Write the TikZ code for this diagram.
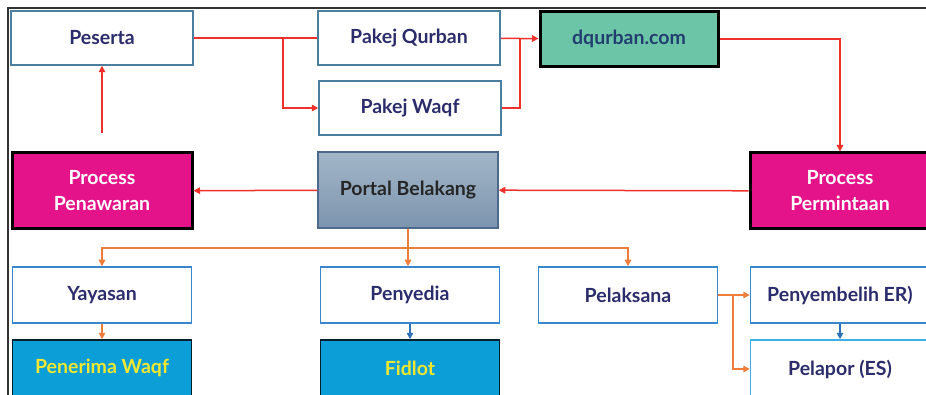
\documentclass[tikz,border=0pt]{standalone}
\usepackage{fontspec}
\setmainfont{Lato}
\usepackage{tikz}
\usetikzlibrary{arrows.meta}

\definecolor{navytext}{HTML}{2B2C6B}
\definecolor{steelline}{HTML}{4A7FA0}
\definecolor{blueline}{HTML}{3A86CF}
\definecolor{cyanline}{HTML}{3CB0E2}
\definecolor{redline}{HTML}{F0302A}
\definecolor{orangeline}{HTML}{EE7D3A}
\definecolor{arrowblue}{HTML}{2E70B8}
\definecolor{webgreen}{HTML}{6CC5A7}
\definecolor{procpink}{HTML}{E5138A}
\definecolor{fillcyan}{HTML}{0C9ED6}
\definecolor{yellowtext}{HTML}{F0E830}
\definecolor{portaltop}{HTML}{A3B6C8}
\definecolor{portalbottom}{HTML}{7C95AE}
\definecolor{portalline}{HTML}{4D6A8C}

\begin{document}
\begin{tikzpicture}[x=1pt, y=-1pt, >={Triangle[length=6.5pt,width=6.5pt]},
    every node/.style={font=\fontsize{19.5}{26}\selectfont\bfseries, align=center, inner sep=0pt},
    topbox/.style={draw=steelline, line width=1.5pt, fill=white, text=navytext, minimum width=182, minimum height=54},
    lowbox/.style={draw=blueline, line width=1.5pt, fill=white, text=navytext, minimum width=179, minimum height=56},
    procbox/.style={draw=black, line width=3pt, fill=procpink, text=white, minimum width=180, minimum height=76},
    fillbox/.style={draw=black!80!fillcyan, line width=1.5pt, fill=fillcyan, text=yellowtext, minimum width=179, minimum height=56},
    redarrow/.style={draw=redline, line width=1.5pt},
    orangearrow/.style={draw=orangeline, line width=1.5pt},
    bluearrow/.style={draw=arrowblue, line width=1.5pt}]
    \useasboundingbox (0,0) rectangle (926,395);
    \clip (0,0) rectangle (926,395);
    \fill[white] (0,0) rectangle (926,395);

    % Frame of the screenshot
    \draw[black!80, line width=1.5pt] (8,400) -- (8,8) -- (930,8);

    % Top row
    \node[topbox] (peserta) at (102,38) {Peserta};
    \node[topbox] (qurban) at (409,38) {Pakej Qurban};
    \node[topbox] (waqf) at (410,108) {Pakej Waqf};
    \node[draw=black, line width=3pt, fill=webgreen, text=navytext!80!teal,
          minimum width=178, minimum height=55] (dqurban) at (629,39) {dqurban.com};

    % Middle row
    \node[procbox] (penawaran) at (102,191) {Process\\Penawaran};
    \node[draw=portalline, line width=1.5pt, top color=portaltop, bottom color=portalbottom,
          text=black!85, minimum width=180, minimum height=76] (portal) at (408,190) {Portal Belakang};
    \node[procbox] (permintaan) at (840,191) {Process\\Permintaan};

    % Bottom rows
    \node[lowbox] (yayasan) at (102,295) {Yayasan};
    \node[lowbox] (penyedia) at (410,295) {Penyedia};
    \node[lowbox] (pelaksana) at (628,295) {Pelaksana};
    \node[lowbox] (penyembelih) at (840,295) {Penyembelih ER)};
    \node[lowbox, draw=cyanline, minimum height=58] (pelapor) at (840,369) {Pelapor (ES)};
    \node[fillbox] (penerima) at (102,368) {Penerima Waqf};
    \node[fillbox] (fidlot) at (410,368) {Fidlot};

    % Split points
    \coordinate (split1) at (283,38);
    \coordinate (split2) at (520,38);
    \coordinate (bus) at (408,248);
    \coordinate (split3) at (733,295);

    % Red flow
    \draw[redarrow] (peserta) -- (qurban);
    \draw[redarrow,->] (split1) |- (waqf.west);
    \draw[redarrow,->] (qurban) -- (dqurban);
    \draw[redarrow] (waqf.east) -| (split2);
    \draw[redarrow,->] (dqurban.east) -| (permintaan.north);
    \draw[redarrow,->] (permintaan) -- (portal);
    \draw[redarrow,->] (portal) -- (penawaran);
    \draw[redarrow,->, shorten <=18pt] (penawaran) -- (peserta);

    % Orange tree
    \draw[orangearrow,->] (portal.south) -- (bus) -| (yayasan.north);
    \draw[orangearrow,->] (portal.south) -- (bus) -| (pelaksana.north);
    \draw[orangearrow,->] (portal.south) -- (penyedia.north -| portal.south);
    \draw[orangearrow,->] (yayasan) -- (penerima);
    \draw[orangearrow,->] (pelaksana) -- (penyembelih);
    \draw[orangearrow,->] (split3) |- (pelapor.west);

    % Blue links
    \draw[bluearrow,->] (penyedia) -- (fidlot);
    \draw[bluearrow,->] (penyembelih) -- (pelapor);
\end{tikzpicture}
\end{document}
